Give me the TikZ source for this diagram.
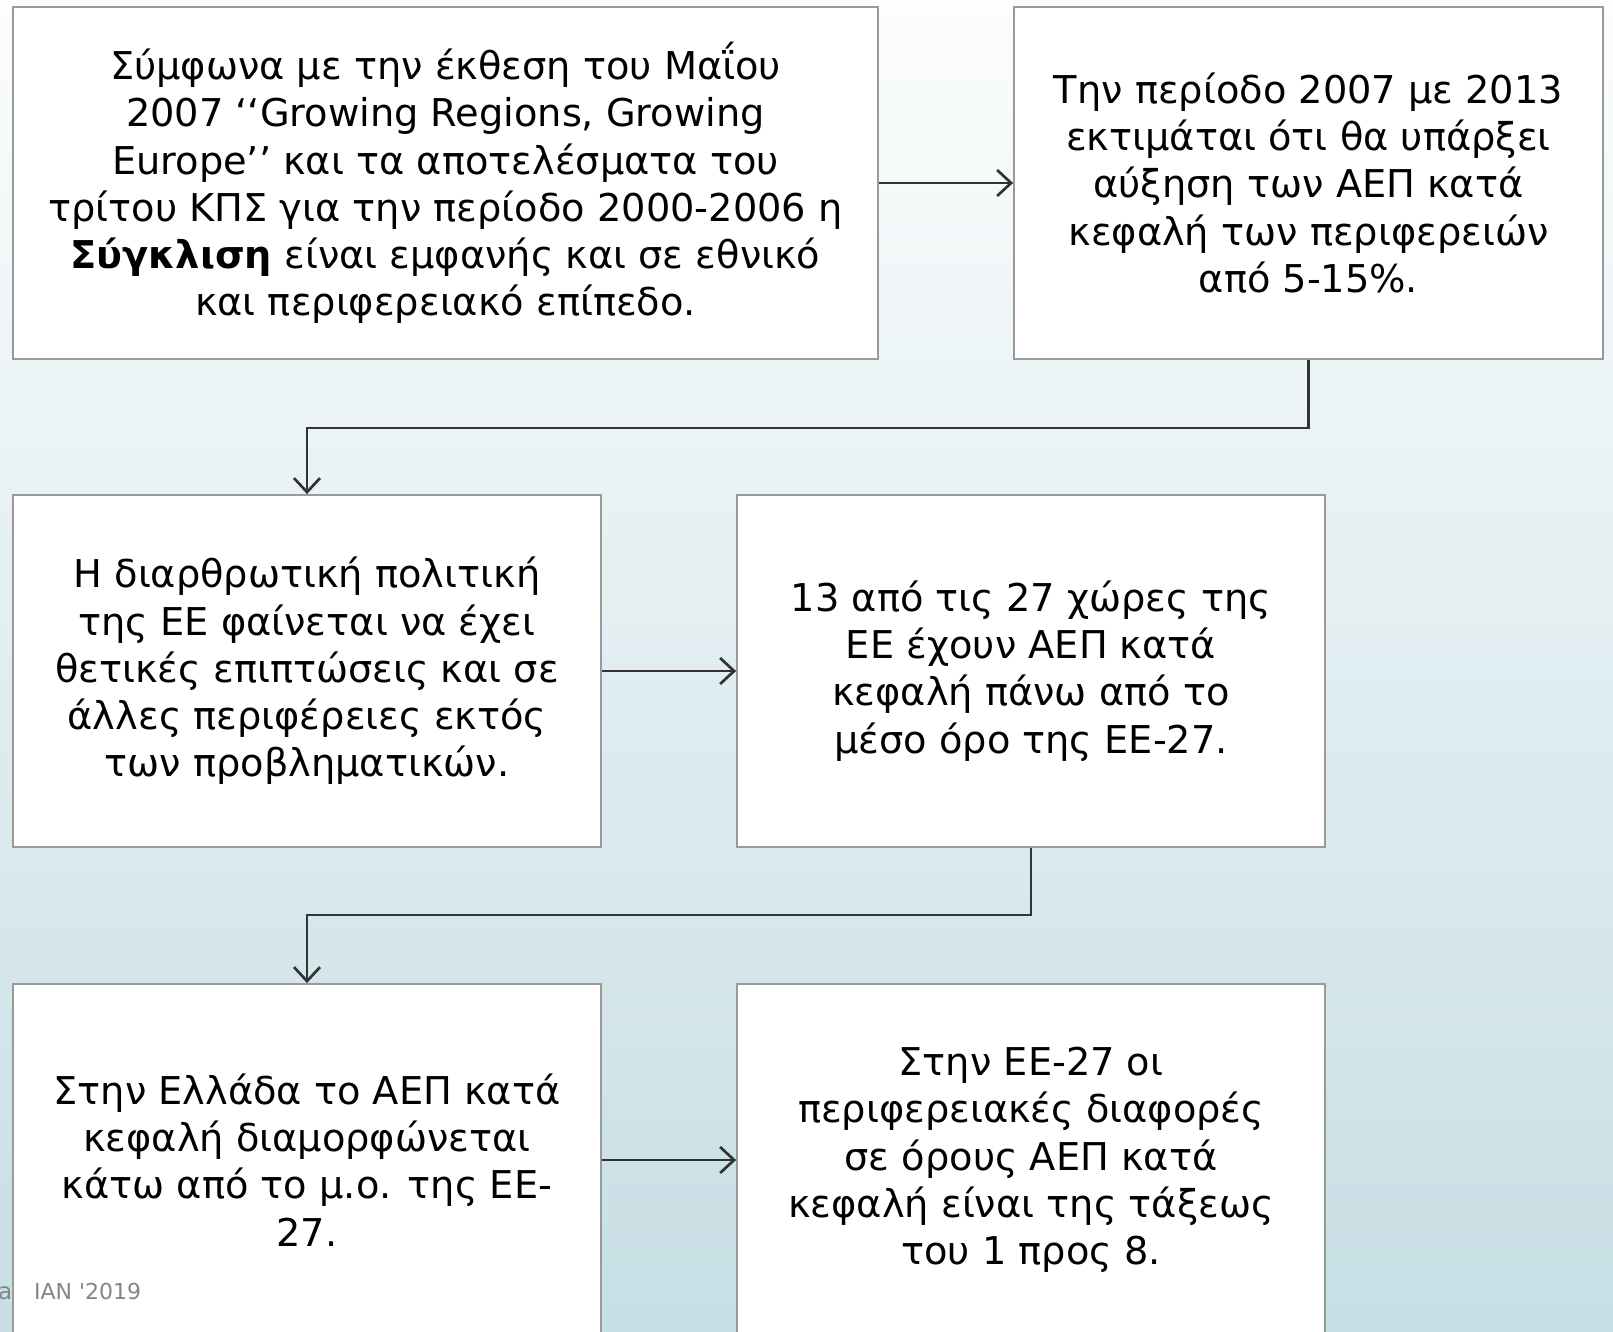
\documentclass[tikz,border=0pt]{standalone}
\usepackage{fontspec}
\setmainfont{DejaVu Sans}
\newfontfamily\footfont[Ligatures=TeXOff]{DejaVu Sans}
\usetikzlibrary{arrows.meta}
\definecolor{bgtop}{HTML}{FCFDFD}
\definecolor{bgmid}{HTML}{E8F0F3}
\definecolor{bgbot}{HTML}{C6DEE4}
\definecolor{boxline}{HTML}{9A9A9A}
\definecolor{connline}{HTML}{333333}
\definecolor{foot}{HTML}{858585}
\tikzset{
  box/.style={draw=boxline, line width=1.8pt, fill=white, inner sep=0pt,
    minimum height=352pt, align=center, text=black,
    font=\fontsize{38.3}{47.3}\selectfont},
  conn/.style={draw=connline, line width=2.7pt,
    -{Straight Barb[length=14pt,width=26pt,line width=2.7pt]}},
}
\begin{document}
\begin{tikzpicture}[x=1pt,y=-1pt]
\useasboundingbox (0,0) rectangle (1613,1331);
\clip (0,0) rectangle (1613,1331);
\shade[top color=bgtop, middle color=bgmid, bottom color=bgbot] (0,0) rectangle (1613,1331);
\node[box, minimum width=865pt] (b1) at (445.5,183) {Σύμφωνα με την έκθεση του Μαΐου\\2007 ‘‘Growing Regions, Growing\\Europe’’ και τα αποτελέσματα του\\τρίτου ΚΠΣ για την περίοδο 2000-2006 η\\\textbf{Σύγκλιση} είναι εμφανής και σε εθνικό\\και περιφερειακό επίπεδο.};
\node[box, minimum width=589pt] (b2) at (1308.5,183) {Την περίοδο 2007 με 2013\\εκτιμάται ότι θα υπάρξει\\αύξηση των ΑΕΠ κατά\\κεφαλή των περιφερειών\\από 5-15\%.};
\node[box, minimum width=588pt] (b3) at (307,671) {Η διαρθρωτική πολιτική\\της ΕΕ φαίνεται να έχει\\θετικές επιπτώσεις και σε\\άλλες περιφέρειες εκτός\\των προβληματικών.};
\node[box, minimum width=588pt] (b4) at (1031,671) {13 από τις 27 χώρες της\\ΕΕ έχουν ΑΕΠ κατά\\κεφαλή πάνω από το\\μέσο όρο της ΕΕ-27.};
\node[box, minimum width=588pt] (b5) at (307,1160) {Στην Ελλάδα το ΑΕΠ κατά\\κεφαλή διαμορφώνεται\\κάτω από το μ.ο. της ΕΕ-\\27.};
\node[box, minimum width=588pt] (b6) at (1031,1160) {Στην ΕΕ-27 οι\\περιφερειακές διαφορές\\σε όρους ΑΕΠ κατά\\κεφαλή είναι της τάξεως\\του 1 προς 8.};
\draw[conn] (b1) -- (b2);
\draw[conn] (b3) -- (b4);
\draw[conn] (b5) -- (b6);
\draw[conn] (b2.south) -- ++(0,68) -| (b3.north);
\draw[conn] (b4.south) -- ++(0,67) -| (b5.north);
\node[anchor=base east, inner sep=0pt, text=foot, font=\footfont\fontsize{23}{28}\selectfont] (fa) at (12.5,1299) {a};
\node[anchor=base west, inner sep=0pt, text=foot, font=\footfont\fontsize{22}{28}\selectfont] (fy) at (34,1299) {IAN '2019};
\end{tikzpicture}
\end{document}
